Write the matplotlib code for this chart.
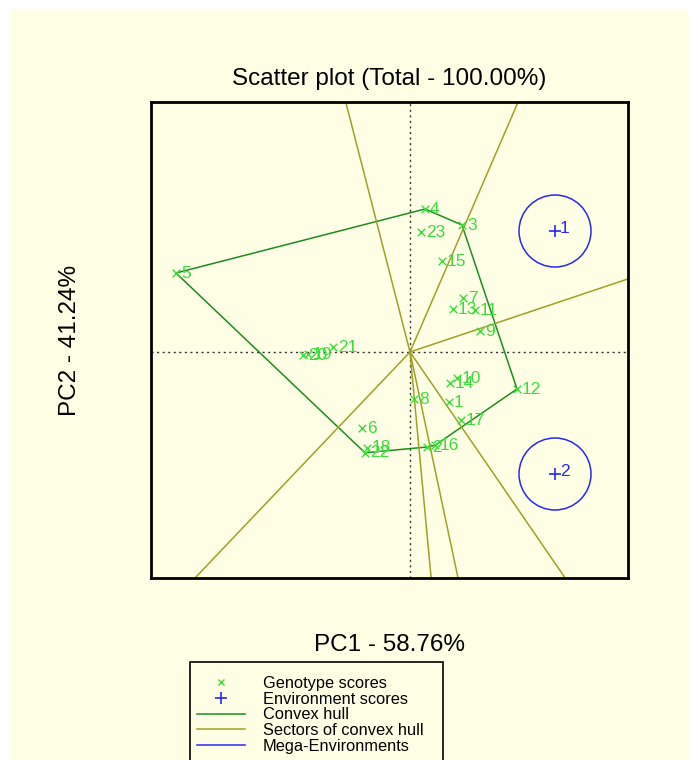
import numpy as np
import matplotlib
matplotlib.use('Agg')
import matplotlib.pyplot as plt
from matplotlib.patches import Circle, Rectangle
from matplotlib.lines import Line2D

# genotype scores (PC1, PC2)
genotypes = [str(i) for i in range(1, 24)]
gen_pc1 = [0.39, 0.17, 0.52, 0.15, -2.34, -0.48, 0.53, 0.04, 0.70, 0.47, 0.65, 1.07,
           0.43, 0.40, 0.32, 0.25, 0.51, -0.43, -1.02, -1.07, -0.77, -0.45, 0.11]
gen_pc2 = [-0.50, -0.95, 1.27, 1.43, 0.79, -0.76, 0.54, -0.47, 0.21, -0.26, 0.42, -0.37,
           0.43, -0.31, 0.91, -0.933, -0.68, -0.96, -0.02, -0.03, 0.05, -1.008, 1.20]

# environment scores
environments = ['1', '2']
env_pc1 = [1.45, 1.45]
env_pc2 = [1.21, -1.22]
mega_radius = [0.36, 0.36]

cream = '#FFFFE6'
green = '#3CDC3C'
hull_green = '#1E8C1E'
olive = '#A0A028'
blue = '#2828F0'

plt.rcParams['font.family'] = ['Liberation Sans', 'DejaVu Sans']


def convex_hull(pts):
    pts = sorted(set(pts))
    def cross(o, a, b):
        return (a[0] - o[0]) * (b[1] - o[1]) - (a[1] - o[1]) * (b[0] - o[0])
    lower, upper = [], []
    for p in pts:
        while len(lower) >= 2 and cross(lower[-2], lower[-1], p) <= 0:
            lower.pop()
        lower.append(p)
    for p in reversed(pts):
        while len(upper) >= 2 and cross(upper[-2], upper[-1], p) <= 0:
            upper.pop()
        upper.append(p)
    return lower[:-1] + upper[:-1]  # counter-clockwise


fig = plt.figure(figsize=(6.89, 7.6), dpi=100)
fig.patch.set_facecolor('white')
fig.patches.append(Rectangle((10 / 689, 0), 1, 1 - 10 / 760, transform=fig.transFigure,
                             facecolor=cream, edgecolor='none', zorder=-10))

ax = fig.add_axes([151 / 689, 182 / 760, 477 / 689, 476 / 760])
ax.set_facecolor(cream)
ax.set_xlim(-2.59, 2.18)
ax.set_ylim(-2.26, 2.50)
ax.set_xticks([])
ax.set_yticks([])
for s in ax.spines.values():
    s.set_linewidth(2)
    s.set_color('black')

ax.axhline(0, color='#333333', ls=(0, (1.5, 2.5)), lw=1, zorder=1)
ax.axvline(0, color='#333333', ls=(0, (1.5, 2.5)), lw=1, zorder=1)

# convex hull and sector lines
hull = convex_hull(list(zip(gen_pc1, gen_pc2)))
hx = [p[0] for p in hull] + [hull[0][0]]
hy = [p[1] for p in hull] + [hull[0][1]]
ax.plot(hx, hy, color=hull_green, lw=1.1, zorder=2)
for i in range(len(hull)):
    p, q = hull[i], hull[(i + 1) % len(hull)]
    nx, ny = q[1] - p[1], -(q[0] - p[0])
    n = np.hypot(nx, ny)
    ax.plot([0, 10 * nx / n], [0, 10 * ny / n], color=olive, lw=1.1, zorder=2)

# genotypes
ax.scatter(gen_pc1, gen_pc2, marker='x', color=green, s=30, linewidths=1, zorder=3)
for g, x, y in zip(genotypes, gen_pc1, gen_pc2):
    ax.annotate(g, (x, y), xytext=(3.5, 0), textcoords='offset points',
                color=green, fontsize=12.5, va='center', ha='left', zorder=3)

# environments and mega-environments
ax.scatter(env_pc1, env_pc2, marker='+', color=blue, s=70, linewidths=1.2, zorder=3)
for e, x, y, r in zip(environments, env_pc1, env_pc2, mega_radius):
    ax.annotate(e, (x, y), xytext=(3.5, 1.5), textcoords='offset points',
                color=blue, fontsize=12.5, va='center', ha='left')
    ax.add_patch(Circle((x, y), r, fill=False, ec=blue, lw=1.1, zorder=2))

ax.set_title('Scatter plot (Total - 100.00%)', fontsize=17.5, pad=12)
ax.set_xlabel('PC1 - 58.76%', fontsize=17.5)
ax.xaxis.set_label_coords(0.5, -0.118)
ax.set_ylabel('PC2 - 41.24%', fontsize=17.5)
ax.yaxis.set_label_coords(-0.147, 0.5)

handles = [Line2D([], [], ls='none', marker='x', color=green, markersize=5, mew=1),
           Line2D([], [], ls='none', marker='+', color=blue, markersize=8, mew=1.2),
           Line2D([], [], color=hull_green, lw=1.1),
           Line2D([], [], color=olive, lw=1.1),
           Line2D([], [], color=blue, lw=1.1)]
labels = ['Genotype scores', 'Environment scores', 'Convex hull',
          'Sectors of convex hull', 'Mega-Environments']
fig.legend(handles, labels, loc='upper left', bbox_to_anchor=(197 / 689, 1 - 676 / 760),
           frameon=False, fontsize=11.8, handlelength=2.93, handletextpad=1.1,
           labelspacing=0.045, borderpad=0, borderaxespad=0)
fig.patches.append(Rectangle((190 / 689, -0.1), 253 / 689, 0.1 + 1 - 662 / 760,
                             transform=fig.transFigure, fill=False, ec='black', lw=1.2))

fig.savefig('out.png', dpi=100)
